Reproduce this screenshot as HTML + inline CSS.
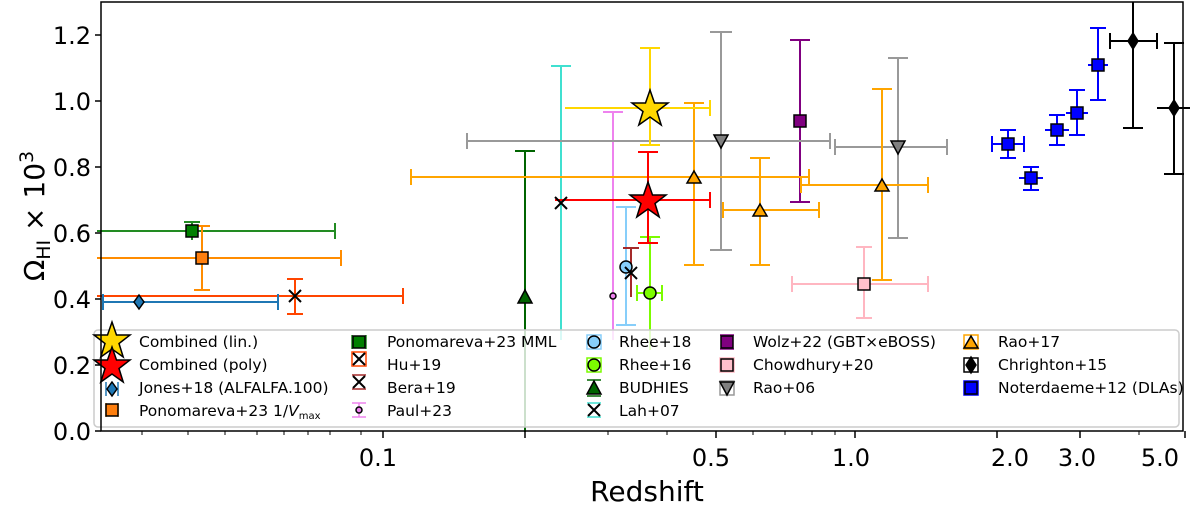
<!DOCTYPE html>
<html><head><meta charset="utf-8"><style>
body{margin:0;background:#fff}
text{font-family:"DejaVu Sans","Liberation Sans",sans-serif;fill:#000}
</style></head><body>
<svg width="1200" height="506" viewBox="0 0 1200 506" xmlns="http://www.w3.org/2000/svg">
<rect width="1200" height="506" fill="#fff"/>
<g stroke-width="2" fill="none">
<g stroke="#40e0d0"><line x1="561" y1="66" x2="561" y2="340"/><line x1="551" y1="66" x2="571" y2="66"/></g>
<g stroke="#ee82ee"><line x1="613" y1="112" x2="613" y2="340"/><line x1="603" y1="112" x2="623" y2="112"/></g>
<g stroke="#006400"><line x1="525" y1="151" x2="525" y2="432"/><line x1="515" y1="151" x2="535" y2="151"/></g>
<g stroke="#87cefa"><line x1="626" y1="207" x2="626" y2="325"/><line x1="616" y1="207" x2="636" y2="207"/><line x1="616" y1="325" x2="636" y2="325"/></g>
<g stroke="#7cfc00"><line x1="650" y1="237" x2="650" y2="350"/><line x1="640" y1="237" x2="660" y2="237"/><line x1="637" y1="293" x2="662" y2="293"/><line x1="662" y1="285" x2="662" y2="301"/><line x1="637" y1="285" x2="637" y2="301"/></g>
<g stroke="#a52a2a"><line x1="631" y1="248" x2="631" y2="297"/><line x1="623" y1="248" x2="639" y2="248"/></g>
<g stroke="#ff4500"><line x1="97" y1="296" x2="403" y2="296"/><line x1="403" y1="288" x2="403" y2="304"/><line x1="295" y1="279" x2="295" y2="314"/><line x1="287" y1="279" x2="303" y2="279"/><line x1="287" y1="314" x2="303" y2="314"/></g>
<g stroke="#1f77b4"><line x1="103" y1="302" x2="278" y2="302"/><line x1="278" y1="294" x2="278" y2="310"/><line x1="103" y1="294" x2="103" y2="310"/><line x1="139" y1="296" x2="139" y2="308"/></g>
<g stroke="#228b22"><line x1="97" y1="231" x2="335" y2="231"/><line x1="335" y1="223" x2="335" y2="239"/><line x1="192" y1="222" x2="192" y2="240"/><line x1="184" y1="222" x2="200" y2="222"/></g>
<g stroke="#ff8c00"><line x1="97" y1="258" x2="341" y2="258"/><line x1="341" y1="250" x2="341" y2="266"/><line x1="202" y1="226" x2="202" y2="290"/><line x1="194" y1="226" x2="210" y2="226"/><line x1="194" y1="290" x2="210" y2="290"/></g>
<g stroke="#800080"><line x1="800" y1="40" x2="800" y2="202"/><line x1="790" y1="40" x2="810" y2="40"/><line x1="790" y1="202" x2="810" y2="202"/></g>
<g stroke="#ffb6c1"><line x1="792" y1="284" x2="928" y2="284"/><line x1="792" y1="276" x2="792" y2="292"/><line x1="928" y1="276" x2="928" y2="292"/><line x1="864" y1="247" x2="864" y2="318"/><line x1="856" y1="247" x2="872" y2="247"/><line x1="856" y1="318" x2="872" y2="318"/></g>
<g stroke="#999"><line x1="467" y1="141" x2="830" y2="141"/><line x1="467" y1="133" x2="467" y2="149"/><line x1="830" y1="133" x2="830" y2="149"/><line x1="721" y1="32" x2="721" y2="250"/><line x1="710" y1="32" x2="732" y2="32"/><line x1="710" y1="250" x2="732" y2="250"/>
<line x1="835" y1="147" x2="947" y2="147"/><line x1="835" y1="139" x2="835" y2="155"/><line x1="947" y1="139" x2="947" y2="155"/><line x1="898" y1="58" x2="898" y2="238"/><line x1="888" y1="58" x2="908" y2="58"/><line x1="888" y1="238" x2="908" y2="238"/></g>
<g stroke="#ffa500"><line x1="411" y1="177" x2="809" y2="177"/><line x1="411" y1="169" x2="411" y2="185"/><line x1="809" y1="169" x2="809" y2="185"/><line x1="694" y1="103" x2="694" y2="265"/><line x1="684" y1="103" x2="704" y2="103"/><line x1="684" y1="265" x2="704" y2="265"/>
<line x1="723" y1="210" x2="819" y2="210"/><line x1="723" y1="202" x2="723" y2="218"/><line x1="819" y1="202" x2="819" y2="218"/><line x1="760" y1="158" x2="760" y2="265"/><line x1="750" y1="158" x2="770" y2="158"/><line x1="750" y1="265" x2="770" y2="265"/>
<line x1="801" y1="185" x2="928" y2="185"/><line x1="801" y1="177" x2="801" y2="193"/><line x1="928" y1="177" x2="928" y2="193"/><line x1="882" y1="89" x2="882" y2="280"/><line x1="872" y1="89" x2="892" y2="89"/><line x1="872" y1="280" x2="892" y2="280"/></g>
<g stroke="#ffd700"><line x1="565" y1="108" x2="710" y2="108"/><line x1="710" y1="100" x2="710" y2="116"/><line x1="650" y1="48" x2="650" y2="145"/><line x1="640" y1="48" x2="660" y2="48"/><line x1="640" y1="145" x2="660" y2="145"/></g>
<g stroke="#ff0000"><line x1="555" y1="200" x2="710" y2="200"/><line x1="710" y1="192" x2="710" y2="208"/><line x1="648" y1="152" x2="648" y2="243"/><line x1="638" y1="152" x2="658" y2="152"/><line x1="638" y1="243" x2="658" y2="243"/></g>
<g stroke="#000"><line x1="1110" y1="41" x2="1157" y2="41"/><line x1="1157" y1="33" x2="1157" y2="49"/><line x1="1110" y1="33" x2="1110" y2="49"/><line x1="1133" y1="2" x2="1133" y2="128"/><line x1="1123" y1="128" x2="1143" y2="128"/>
<line x1="1157" y1="108" x2="1190" y2="108"/><line x1="1174" y1="43" x2="1174" y2="174"/><line x1="1164" y1="43" x2="1184" y2="43"/><line x1="1164" y1="174" x2="1184" y2="174"/></g>
<g stroke="#0000ff">
<line x1="992" y1="144" x2="1024" y2="144"/><line x1="992" y1="136" x2="992" y2="152"/><line x1="1024" y1="136" x2="1024" y2="152"/><line x1="1008" y1="130" x2="1008" y2="158"/><line x1="1000" y1="130" x2="1016" y2="130"/><line x1="1000" y1="158" x2="1016" y2="158"/>
<line x1="1019" y1="178" x2="1043" y2="178"/><line x1="1031" y1="167" x2="1031" y2="190"/><line x1="1023" y1="167" x2="1039" y2="167"/><line x1="1023" y1="190" x2="1039" y2="190"/>
<line x1="1045" y1="130" x2="1069" y2="130"/><line x1="1057" y1="115" x2="1057" y2="145"/><line x1="1049" y1="115" x2="1065" y2="115"/><line x1="1049" y1="145" x2="1065" y2="145"/>
<line x1="1066" y1="113" x2="1088" y2="113"/><line x1="1077" y1="90" x2="1077" y2="135"/><line x1="1069" y1="90" x2="1085" y2="90"/><line x1="1069" y1="135" x2="1085" y2="135"/>
<line x1="1088" y1="65" x2="1108" y2="65"/><line x1="1098" y1="28" x2="1098" y2="100"/><line x1="1090" y1="28" x2="1106" y2="28"/><line x1="1090" y1="100" x2="1106" y2="100"/></g>
</g>
<g stroke="#000" stroke-width="1.5">
<path d="M561,203 m-6,-6 l12,12 m0,-12 l-12,12" stroke-width="2"/>
<circle cx="613" cy="296" r="3" fill="#ee82ee"/>
<path d="M525,290 l7,13 h-14z" fill="#006400"/>
<circle cx="626" cy="267" r="6" fill="#87cefa"/>
<circle cx="650" cy="293" r="6" fill="#7cfc00"/>
<path d="M631,273 m-6,-6 l12,12 m0,-12 l-12,12" stroke-width="2"/>
<path d="M295,296 m-6,-6 l12,12 m0,-12 l-12,12" stroke-width="2"/>
<path d="M139,295 l5,7 l-5,7 l-5,-7z" fill="#1f77b4"/>
<rect x="186" y="225" width="12" height="12" fill="#008000"/>
<rect x="196" y="252" width="12" height="12" fill="#ff7f0e"/>
<rect x="794" y="115" width="12" height="12" fill="#800080"/>
<rect x="858" y="278" width="12" height="12" fill="#ffc0cb"/>
<path d="M714,135 h14 l-7,13z" fill="#808080"/><path d="M891,141 h14 l-7,13z" fill="#808080"/>
<path d="M694,171 l7,12 h-14z" fill="#ffa500"/><path d="M760,204 l7,12 h-14z" fill="#ffa500"/><path d="M882,179 l7,12 h-14z" fill="#ffa500"/>
<path d="M1133,33 l5,8 l-5,8 l-5,-8z" fill="#000"/><path d="M1174,100 l5,8 l-5,8 l-5,-8z" fill="#000"/>
<rect x="1002" y="138" width="12" height="12" fill="#0000ff"/>
<rect x="1025" y="172" width="12" height="12" fill="#0000ff"/>
<rect x="1051" y="124" width="12" height="12" fill="#0000ff"/>
<rect x="1071" y="107" width="12" height="12" fill="#0000ff"/>
<rect x="1092" y="59" width="12" height="12" fill="#0000ff"/>
<path d="M650,90 l4.5,13 h13.5 l-11,8.5 l4.2,13.5 l-11.2,-8 l-11.2,8 l4.2,-13.5 l-11,-8.5 h13.5z" fill="#ffd700"/>
<path d="M648,182 l4.5,13 h13.5 l-11,8.5 l4.2,13.5 l-11.2,-8 l-11.2,8 l4.2,-13.5 l-11,-8.5 h13.5z" fill="#ff0000"/>
</g>
<rect x="94" y="330" width="1085" height="97" rx="4" fill="#fff" fill-opacity="0.8" stroke="#ccc" stroke-width="1.5"/>
<g stroke-width="1.5" fill="none">
<g stroke="#1f77b4"><line x1="106" y1="382" x2="106" y2="396"/><line x1="118" y1="382" x2="118" y2="396"/><line x1="106" y1="389" x2="118" y2="389"/></g>
<g stroke="#ff8c00"><line x1="106" y1="403" x2="106" y2="417"/><line x1="118" y1="403" x2="118" y2="417"/></g>
<g stroke="#228b22"><line x1="352" y1="335" x2="352" y2="349"/><line x1="366" y1="335" x2="366" y2="349"/></g>
<g stroke="#ff4500"><rect x="352" y="352" width="14" height="14"/></g>
<g stroke="#a52a2a"><line x1="352" y1="375" x2="366" y2="375"/><line x1="352" y1="389" x2="366" y2="389"/></g>
<g stroke="#ee82ee"><line x1="352" y1="403" x2="366" y2="403"/><line x1="352" y1="417" x2="366" y2="417"/><line x1="359" y1="403" x2="359" y2="417"/></g>
<g stroke="#87cefa"><rect x="587" y="335" width="14" height="14"/></g>
<g stroke="#7cfc00"><rect x="587" y="358" width="14" height="14"/></g>
<g stroke="#006400"><line x1="587" y1="380" x2="601" y2="380"/><line x1="587" y1="396" x2="601" y2="396"/></g>
<g stroke="#40e0d0"><line x1="587" y1="403" x2="601" y2="403"/><line x1="587" y1="417" x2="601" y2="417"/></g>
<g stroke="#800080"><line x1="720" y1="335" x2="734" y2="335"/><line x1="720" y1="349" x2="734" y2="349"/></g>
<g stroke="#ffb6c1"><rect x="720" y="358" width="14" height="14"/></g>
<g stroke="#999"><rect x="720" y="381" width="14" height="14"/></g>
<g stroke="#ffa500"><rect x="964" y="335" width="14" height="14"/></g>
<g stroke="#000"><rect x="964" y="358" width="14" height="14"/></g>
<g stroke="#0000ff"><rect x="964" y="381" width="14" height="14"/></g>
</g>
<g stroke="#000" stroke-width="1.5">
<path d="M112,322 l4.5,13 h13.5 l-11,8.5 l4.2,13.5 l-11.2,-8 l-11.2,8 l4.2,-13.5 l-11,-8.5 h13.5z" fill="#ffd700"/>
<path d="M112,347 l4.5,13 h13.5 l-11,8.5 l4.2,13.5 l-11.2,-8 l-11.2,8 l4.2,-13.5 l-11,-8.5 h13.5z" fill="#ff0000"/>
<path d="M112,382 l5,7 l-5,7 l-5,-7z" fill="#1f77b4"/>
<rect x="106" y="404" width="12" height="12" fill="#ff7f0e"/>
<rect x="353" y="336" width="12" height="12" fill="#008000"/>
<path d="M359,359 m-6,-6 l12,12 m0,-12 l-12,12" stroke-width="2"/>
<path d="M359,382 m-6,-6 l12,12 m0,-12 l-12,12" stroke-width="2"/>
<circle cx="359" cy="410" r="3" fill="#ee82ee"/>
<circle cx="594" cy="342" r="6" fill="#87cefa"/>
<circle cx="594" cy="365" r="6" fill="#7cfc00"/>
<path d="M594,381 l7,13 h-14z" fill="#006400"/>
<path d="M594,410 m-6,-6 l12,12 m0,-12 l-12,12" stroke-width="2"/>
<rect x="721" y="336" width="12" height="12" fill="#800080"/>
<rect x="721" y="359" width="12" height="12" fill="#ffc0cb"/>
<path d="M720,382 h14 l-7,13z" fill="#808080"/>
<path d="M971,336 l7,12 h-14z" fill="#ffa500"/>
<path d="M971,357 l5,8 l-5,8 l-5,-8z" fill="#000"/>
<rect x="965" y="382" width="12" height="12" fill="#0000ff"/>
</g>
<g font-size="15.5">
<text x="139" y="347">Combined (lin.)</text>
<text x="139" y="370">Combined (poly)</text>
<text x="139" y="393">Jones+18 (ALFALFA.100)</text>
<text x="139" y="416">Ponomareva+23 1/<tspan font-style="italic">V</tspan><tspan font-size="10" dy="3">max</tspan></text>
<text x="387" y="347">Ponomareva+23 MML</text>
<text x="387" y="370">Hu+19</text>
<text x="387" y="393">Bera+19</text>
<text x="387" y="416">Paul+23</text>
<text x="619" y="347">Rhee+18</text>
<text x="619" y="370">Rhee+16</text>
<text x="619" y="393">BUDHIES</text>
<text x="619" y="416">Lah+07</text>
<text x="753" y="347">Wolz+22 (GBT×eBOSS)</text>
<text x="753" y="370">Chowdhury+20</text>
<text x="753" y="393">Rao+06</text>
<text x="998" y="347">Rao+17</text>
<text x="998" y="370">Chrighton+15</text>
<text x="998" y="393">Noterdaeme+12 (DLAs)</text>
</g>
<rect x="101" y="2" width="1082" height="429" fill="none" stroke="#000" stroke-width="1.5"/>
<g stroke="#000" stroke-width="1.5">
<line x1="95" y1="431" x2="101" y2="431"/><line x1="95" y1="365" x2="101" y2="365"/><line x1="95" y1="299" x2="101" y2="299"/><line x1="95" y1="233" x2="101" y2="233"/><line x1="95" y1="167" x2="101" y2="167"/><line x1="95" y1="101" x2="101" y2="101"/><line x1="95" y1="35" x2="101" y2="35"/>
<line x1="383" y1="431" x2="383" y2="438"/><line x1="525" y1="431" x2="525" y2="438"/><line x1="716" y1="431" x2="716" y2="438"/><line x1="855" y1="431" x2="855" y2="438"/><line x1="997" y1="431" x2="997" y2="438"/><line x1="1080" y1="431" x2="1080" y2="438"/><line x1="1185" y1="431" x2="1185" y2="438"/>
</g>
<g stroke="#000" stroke-width="1">
<line x1="142" y1="431" x2="142" y2="435"/><line x1="188" y1="431" x2="188" y2="435"/><line x1="225" y1="431" x2="225" y2="435"/><line x1="257" y1="431" x2="257" y2="435"/><line x1="284" y1="431" x2="284" y2="435"/><line x1="308" y1="431" x2="308" y2="435"/><line x1="330" y1="431" x2="330" y2="435"/><line x1="361" y1="431" x2="361" y2="435"/>
<line x1="608" y1="431" x2="608" y2="435"/><line x1="667" y1="431" x2="667" y2="435"/><line x1="753" y1="431" x2="753" y2="435"/><line x1="785" y1="431" x2="785" y2="435"/><line x1="812" y1="431" x2="812" y2="435"/><line x1="835" y1="431" x2="835" y2="435"/><line x1="1139" y1="431" x2="1139" y2="435"/>
</g>
<g font-size="24" text-anchor="end">
<text x="91" y="440">0.0</text><text x="91" y="374">0.2</text><text x="91" y="308">0.4</text><text x="91" y="242">0.6</text><text x="91" y="176">0.8</text><text x="91" y="110">1.0</text><text x="91" y="44">1.2</text>
</g>
<g font-size="24" text-anchor="middle">
<text x="378" y="466">0.1</text><text x="711" y="466">0.5</text><text x="851" y="466">1.0</text><text x="1010" y="466">2.0</text><text x="1077" y="466">3.0</text><text x="1160" y="466">5.0</text>
</g>
<text x="647" y="501" font-size="28" text-anchor="middle">Redshift</text>
<text transform="translate(44,216) rotate(-90)" font-size="28" text-anchor="middle">Ω<tspan font-size="19" dy="6">HI</tspan><tspan dy="-6"> × 10</tspan><tspan font-size="19" dy="-11">3</tspan></text>
</svg>
</body></html>
